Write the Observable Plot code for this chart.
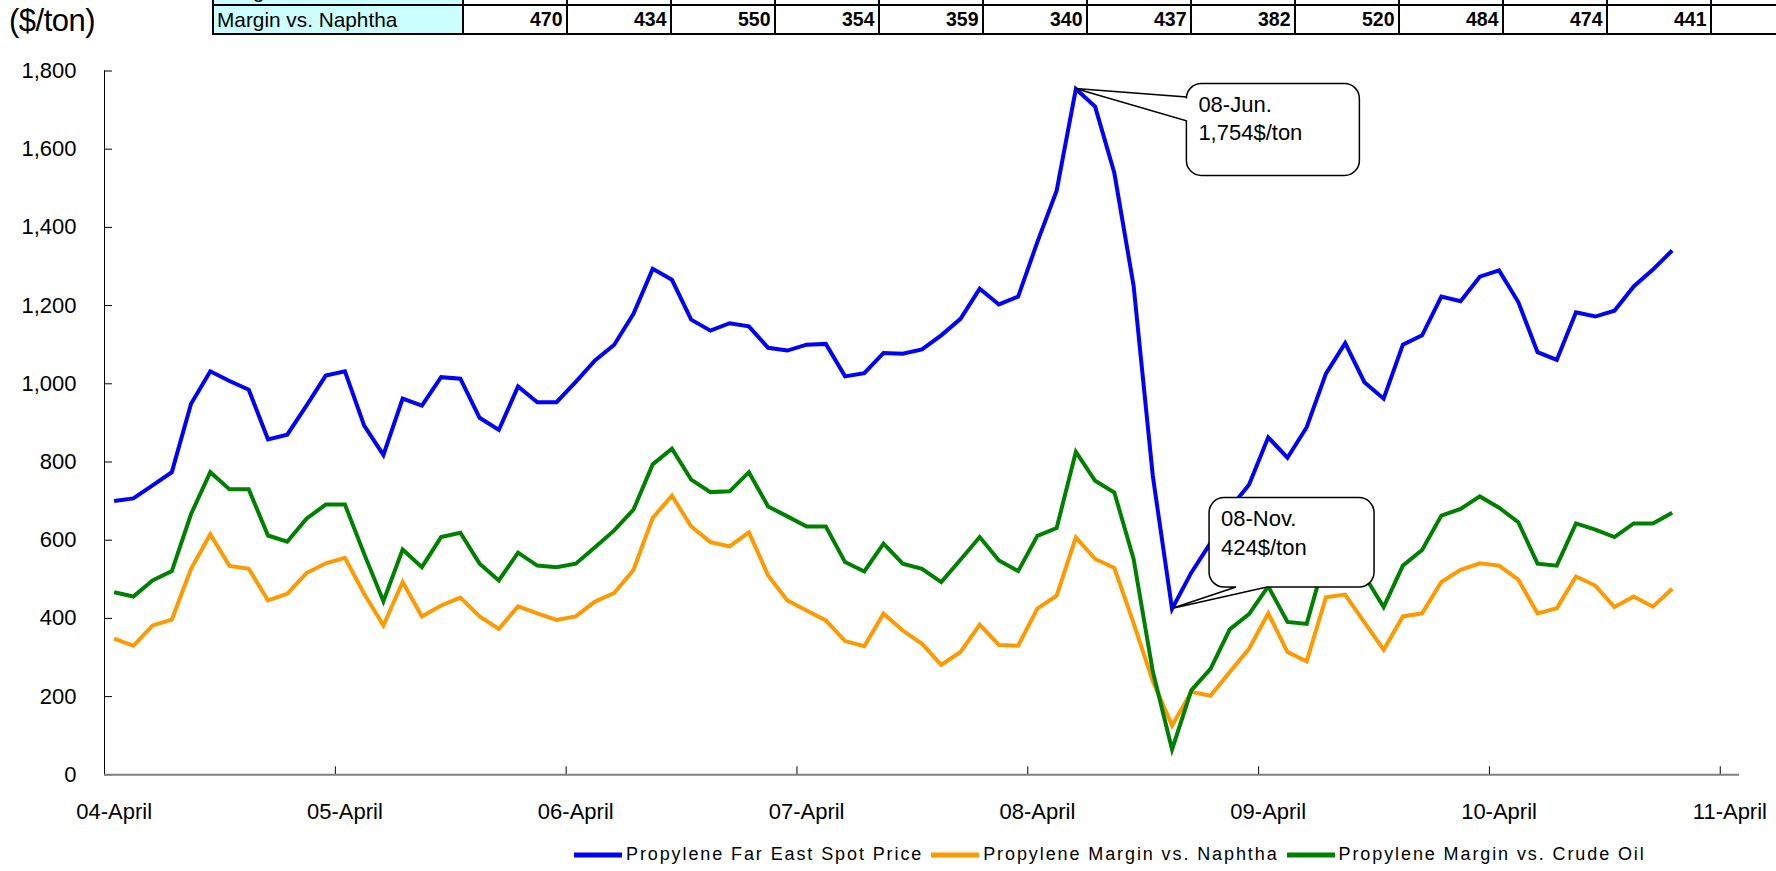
<!DOCTYPE html>
<html>
<head>
<meta charset="utf-8">
<script src="https://cdn.jsdelivr.net/npm/d3@7"></script>
<script src="https://cdn.jsdelivr.net/npm/@observablehq/plot@0.6"></script>
<style>
  html, body { margin: 0; padding: 0; background: #fff; overflow: hidden; }
  body { width: 1776px; height: 871px; font-family: "Liberation Sans", Arial, sans-serif; color: #000; }
  #header { position: relative; height: 46px; overflow: hidden; }
  #unit { position: absolute; left: 9px; top: 3px; font-size: 31px; line-height: 36px; letter-spacing: -0.5px; }
  #table-wrap { position: absolute; left: 212px; top: 0; width: 1564px; height: 38px; overflow: hidden; }
  #table-wrap .cell {
    position: absolute; box-sizing: border-box; height: 29px;
    border-right: 2px solid #000; border-bottom: 2px solid #000;
    line-height: 27px; white-space: nowrap; overflow: hidden;
  }
  #table-wrap .label { background: #ccffff; border-left: 2px solid #000; padding-left: 3px; font-size: 20.8px; }
  #table-wrap .val { text-align: right; padding-right: 3.5px; font-weight: bold; font-size: 19.5px; }
  #chart svg { display: block; }
  #legend { display: flex; align-items: center; height: 33px; padding-left: 574px; font-size: 18px; letter-spacing: 1.9px; }
  #legend .item { display: flex; align-items: center; margin-right: 8px; white-space: nowrap; }
  #legend svg { margin-right: 4px; }
</style>
</head>
<body>
<div id="header">
  <div id="unit">($/ton)</div>
  <div id="table-wrap"></div>
</div>
<div id="chart"></div>
<div id="legend"></div>
<script>
// Monthly categories from April 2004 through April 2011 (85 slots, data ends Jan 2011)
const firstMonth = new Date(Date.UTC(2004, 3, 1));
const categoryCount = 85;
const yearLabels = ["04-April", "05-April", "06-April", "07-April", "08-April", "09-April", "10-April", "11-April"];
const yTicks = [0, 200, 400, 600, 800, 1000, 1200, 1400, 1600, 1800];

const seriesNames = ["Propylene Far East Spot Price", "Propylene Margin vs. Naphtha", "Propylene Margin vs. Crude Oil"];
const seriesColors = ["#0000ff", "#ff9900", "#008000"];

// $/ton, one value per month starting April 2004
const spotPrice = [
  700, 707, 740, 774, 949, 1032, 1007, 985, 858, 870, 944, 1021,
  1032, 893, 818, 962, 944, 1017, 1013, 913, 882, 993, 953, 953,
  1005, 1060, 1100, 1179, 1294, 1266, 1164, 1136, 1155, 1147, 1092, 1085,
  1100, 1102, 1019, 1027, 1079, 1077, 1088, 1124, 1166, 1243, 1203, 1223,
  1363, 1494, 1754, 1709, 1539, 1251, 764, 424, 517, 593, 681, 742,
  863, 811, 889, 1026, 1104, 1004, 962, 1100, 1124, 1223, 1211, 1274,
  1290, 1209, 1081, 1061, 1183, 1172, 1187, 1249, 1292, 1341
];
const marginNaphtha = [
  348, 330, 382, 397, 527, 615, 534, 527, 446, 463, 516, 541,
  555, 463, 382, 493, 405, 433, 453, 405, 373, 431, 413, 396,
  405, 443, 465, 524, 657, 714, 635, 595, 584, 620, 510, 446,
  420, 395, 342, 329, 412, 369, 335, 281, 314, 384, 332, 330,
  425, 458, 607, 552, 529, 388, 239, 126, 212, 202, 263, 322,
  413, 314, 290, 454, 461, 390, 320, 405, 413, 493, 524, 541,
  535, 499, 413, 426, 507, 484, 429, 456, 430, 476
];
const marginCrude = [
  467, 456, 497, 521, 667, 774, 730, 730, 612, 596, 655, 691,
  691, 565, 444, 576, 531, 608, 619, 540, 497, 568, 535, 531,
  540, 582, 625, 678, 794, 834, 755, 723, 725, 774, 686, 661,
  635, 635, 544, 520, 591, 540, 527, 493, 550, 608, 548, 521,
  611, 631, 826, 752, 722, 552, 264, 65, 216, 271, 372, 411,
  482, 391, 386, 560, 575, 509, 429, 535, 575, 663, 680, 712,
  683, 646, 540, 535, 643, 627, 608, 643, 643, 670
];
const seriesValues = [spotPrice, marginNaphtha, marginCrude];

// Summary table rows
const tableLabels = ["Margin vs. Crude Oil", "Margin vs. Naphtha"];
const naphthaMarginRow = [470, 434, 550, 354, 359, 340, 437, 382, 520, 484, 474, 441];
const tableColumns = 13;

// Annotated points of the spot price series (month index)
const calloutIndex = [50, 55];

// ---- table (the upper row runs off the top of the page) ----
const labelWidth = 252, valueWidth = 104, rowPitch = 29, firstRowTop = -23;
const tableRows = [
  {label: tableLabels[0], values: []},
  {label: tableLabels[1], values: naphthaMarginRow}
];
const wrap = d3.select("#table-wrap");
tableRows.forEach((row, r) => {
  const top = firstRowTop + r * rowPitch;
  wrap.append("div").attr("class", "cell label")
    .style("left", "0px").style("top", top + "px").style("width", labelWidth + "px")
    .text(row.label);
  d3.range(tableColumns).forEach(k => {
    wrap.append("div").attr("class", "cell val")
      .style("left", (labelWidth + k * valueWidth) + "px").style("top", top + "px")
      .style("width", valueWidth + "px")
      .text(row.values[k] ?? "");
  });
});

// ---- chart ----
const yearStarts = yearLabels.map((_, k) => k * 12);
const yearBoundaries = yearLabels.slice(1).map((_, k) => (k + 1) * 12 - 0.5);
const xMin = -0.5, xMax = categoryCount - 0.5;

const plot = Plot.plot({
  width: 1776,
  height: 792,
  marginLeft: 104,
  marginRight: 37,
  marginTop: 24.5,
  marginBottom: 63.7,
  style: {fontFamily: "'Liberation Sans', Arial, sans-serif", fontSize: "22px", color: "#000", background: "#fff", overflow: "visible"},
  x: {type: "linear", domain: [xMin, xMax]},
  y: {domain: [0, 1800]},
  marks: [
    Plot.ruleX([xMin], {y1: 0, y2: 1800, stroke: "#000", strokeWidth: 1}),
    Plot.ruleY(yTicks, {y: d => d, x1: xMin, x2: xMin, insetRight: -8, stroke: "#000", strokeWidth: 1}),
    Plot.ruleX(yearBoundaries, {x: d => d, y1: 0, y2: 0, insetTop: -8, stroke: "#000", strokeWidth: 1}),
    Plot.ruleY([0], {x1: xMin, x2: xMax, stroke: "#808080", strokeWidth: 2}),
    Plot.axisY(yTicks, {tickSize: 0, tickPadding: 28, tickFormat: d3.format(","), fontSize: 22}),
    Plot.axisX(yearStarts, {tickSize: 0, tickPadding: 29, tickFormat: d => yearLabels[d / 12], fontSize: 22}),
    ...seriesValues.map((vals, s) => Plot.line(vals, {
      x: (d, i) => i, y: d => d,
      stroke: seriesColors[s], strokeWidth: 4,
      strokeLinejoin: "miter", strokeMiterlimit: 4, strokeLinecap: "butt"
    }))
  ]
});
document.getElementById("chart").append(plot);

// ---- callouts on the spot price line ----
const xs = plot.scale("x"), ys = plot.scale("y");
const monthFmt = d3.utcFormat("%y-%b.");
const calloutLayout = [
  {dx: 111, dy: -5, w: 173, h: 92, side: "left", w1: 13.4, w2: 37.4},
  {dx: 37.5, dy: -111, w: 165, h: 89.5, side: "bottom", w1: 27, w2: 58}
];
const r = 15;
const layer = d3.select(plot).append("g").attr("class", "callouts");
calloutIndex.forEach((idx, k) => {
  const L = calloutLayout[k];
  const tx = xs.apply(idx), ty = ys.apply(spotPrice[idx]);
  const bx = tx + L.dx, by = ty + L.dy, bw = L.w, bh = L.h;
  let d = `M${bx + r},${by}H${bx + bw - r}A${r},${r} 0 0 1 ${bx + bw},${by + r}`
    + `V${by + bh - r}A${r},${r} 0 0 1 ${bx + bw - r},${by + bh}`;
  if (L.side === "bottom") d += `H${bx + L.w2}L${tx},${ty}L${bx + L.w1},${by + bh}`;
  d += `H${bx + r}A${r},${r} 0 0 1 ${bx},${by + bh - r}`;
  if (L.side === "left") d += `V${by + L.w2}L${tx},${ty}L${bx},${by + L.w1}`;
  d += `V${by + r}A${r},${r} 0 0 1 ${bx + r},${by}Z`;
  layer.append("path").attr("d", d).attr("fill", "#fff").attr("stroke", "#000").attr("stroke-width", 1.5);
  const month = d3.utcMonth.offset(firstMonth, idx);
  const lines = [monthFmt(month), d3.format(",")(spotPrice[idx]) + "$/ton"];
  layer.selectAll(null).data(lines).join("text")
    .attr("x", bx + 12)
    .attr("y", (t, j) => by + 28.5 + j * 28.5)
    .attr("text-anchor", "start")
    .attr("font-size", 22)
    .attr("fill", "#000")
    .text(t => t);
});

// ---- legend ----
const legend = d3.select("#legend").selectAll(".item").data(seriesNames).join("div").attr("class", "item");
legend.append("svg").attr("width", 48).attr("height", 10)
  .append("line").attr("x1", 0).attr("x2", 48).attr("y1", 5).attr("y2", 5)
  .attr("stroke", (d, i) => seriesColors[i]).attr("stroke-width", 5);
legend.append("span").text(d => d);
</script>
</body>
</html>
